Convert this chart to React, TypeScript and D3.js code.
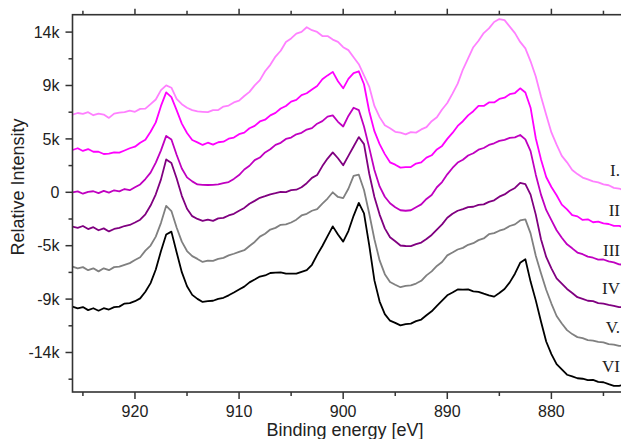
import React from "react";
import * as d3 from "d3";

const energies = [
  926, 925.5, 925, 924.5, 924, 923.5, 923, 922.5, 922, 921.5,
  921, 920.5, 920, 919.5, 919, 918.5, 918, 917.5, 917, 916.5,
  916, 915.5, 915, 914.5, 914, 913.5, 913, 912.5, 912, 911.5,
  911, 910.5, 910, 909.5, 909, 908.5, 908, 907.5, 907, 906.5,
  906, 905.5, 905, 904.5, 904, 903.5, 903, 902.5, 902, 901.5,
  901, 900.5, 900, 899.5, 899, 898.5, 898, 897.5, 897, 896.5,
  896, 895.5, 895, 894.5, 894, 893.5, 893, 892.5, 892, 891.5,
  891, 890.5, 890, 889.5, 889, 888.5, 888, 887.5, 887, 886.5,
  886, 885.5, 885, 884.5, 884, 883.5, 883, 882.5, 882, 881.5,
  881, 880.5, 880, 879.5, 879, 878.5, 878, 877.5, 877, 876.5,
  876, 875.5, 875, 874.5, 874, 873.5, 873, 872.5, 872,
];

const seriesI = [
  6620, 6750, 6680, 6820, 6560, 6700, 6620, 6330, 6700, 6780,
  6820, 6950, 6850, 7100, 7120, 7500, 7900, 8700, 9100, 8900,
  7950, 7500, 7200, 7000, 6880, 6850, 6820, 7000, 7000, 7300,
  7380, 7650, 7800, 8200, 8550, 9100, 9550, 10300, 10850, 11550,
  12050, 12800, 13100, 13500, 13650, 14050, 13800, 13650, 13300, 13300,
  13000, 12800, 12350, 12100, 11500, 10900, 9950, 9000, 7350, 6400,
  5700, 5450, 5150, 5080, 4930, 5120, 5080, 5350, 5550, 6050,
  6380, 7050, 7600, 8400, 9250, 10450, 11400, 12350, 12900, 13550,
  13950, 14500, 14750, 14650, 14100, 13550, 12800, 12250, 11150, 9850,
  8150, 6600, 5100, 4050, 3100, 2550, 1900, 1550, 1250, 1100,
  930, 850, 680, 600, 380, 320, 140, 160, 40,
];

const seriesII = [
  3600, 3750, 3520, 3680, 3450, 3450, 3260, 3300, 3400, 3380,
  3560, 3750, 3880, 4220, 4480, 5150, 5950, 7350, 8500, 8100,
  7000, 5850, 5050, 4450, 4250, 4030, 4220, 4060, 4260, 4310,
  4560, 4660, 4950, 5080, 5450, 5650, 6030, 6180, 6550, 6760,
  7130, 7350, 7720, 7860, 8270, 8430, 8750, 9050, 9620, 9950,
  10250, 9450, 8850, 9650, 10150, 10300, 9200, 6900, 5200, 4100,
  3250, 2550, 2350, 2100, 2150, 2150, 2450, 2550, 2950, 3150,
  3650, 3950, 4550, 5050, 5650, 6050, 6550, 6900, 7350, 7350,
  7650, 7650, 7950, 8050, 8350, 8450, 8850, 8500, 7200, 4600,
  2800, 1300, 450, -250, -1050, -1450, -1950, -2050, -2350, -2300,
  -2550, -2500, -2650, -2700, -2850, -2850, -3000, -2950, -3050,
];

const seriesIII = [
  0, 80, -120, 40, 90, -70, 120, -30, 170, 80,
  280, 180, 430, 670, 1130, 1670, 2530, 3570, 4800, 4500,
  3200, 2030, 1270, 930, 670, 630, 620, 640, 670, 790,
  870, 1140, 1470, 1940, 2260, 2740, 2960, 3390, 3660, 4040,
  4210, 4540, 4660, 4940, 5060, 5340, 5460, 5840, 6060, 6440,
  6550, 6000, 5600, 6500, 7200, 7000, 5600, 3800, 1900, 500,
  -380, -930, -1270, -1530, -1570, -1530, -1270, -1030, -570, -230,
  430, 870, 1530, 2070, 2530, 2770, 3130, 3320, 3630, 3770,
  4030, 4170, 4380, 4470, 4630, 4670, 4880, 4500, 3500, 1500,
  -200, -1500, -2370, -3230, -3870, -4430, -4770, -5130, -5270, -5480,
  -5570, -5730, -5720, -5880, -5970, -6130, -6170, -6280, -6270,
];

const seriesIV = [
  -2930, -3030, -2870, -3130, -2970, -3230, -3070, -3330, -3120, -3030,
  -2870, -2780, -2570, -2330, -1870, -1130, -170, 1100, 2800, 2500,
  1200, -300, -1400, -2030, -2270, -2430, -2320, -2430, -2220, -2180,
  -1970, -1830, -1570, -1330, -970, -730, -470, -330, -170, -80,
  30, 20, 180, 220, 430, 770, 1230, 1470, 2230, 2870,
  3400, 2900, 2300, 3100, 3900, 4700, 4100, 1600, -400, -1900,
  -3070, -3830, -4170, -4530, -4570, -4580, -4420, -4280, -3970, -3630,
  -3170, -2730, -2170, -1830, -1570, -1430, -1270, -1230, -1070, -1030,
  -820, -680, -370, -180, 130, 370, 800, 700, -200, -1900,
  -4000, -5500, -6470, -7330, -7770, -8230, -8570, -8930, -9070, -9230,
  -9270, -9430, -9470, -9580, -9670, -9780, -9770, -9880, -9870,
];

const seriesV = [
  -6330, -6480, -6370, -6630, -6470, -6730, -6470, -6630, -6370, -6330,
  -6170, -6030, -5770, -5530, -4970, -4530, -3770, -2600, -1150, -1600,
  -3000, -4200, -5000, -5430, -5670, -5930, -5820, -5830, -5670, -5580,
  -5370, -5230, -5070, -4930, -4570, -4230, -3770, -3530, -3170, -3030,
  -2770, -2730, -2570, -2330, -1970, -1830, -1570, -1430, -970, -530,
  0, -400, -500, 300, 1400, 1500, 200, -1800, -4000, -5800,
  -6970, -7630, -7870, -8080, -7970, -7930, -7770, -7530, -7070, -6730,
  -6270, -5930, -5370, -5130, -4870, -4730, -4470, -4330, -4070, -3930,
  -3570, -3480, -3270, -3130, -2870, -2730, -2400, -2300, -3500, -5400,
  -6900, -8300, -9470, -10530, -11170, -11730, -12070, -12330, -12420, -12580,
  -12620, -12730, -12770, -12930, -12970, -13080, -13070, -13180, -13170,
];

const seriesVI = [
  -9740, -9880, -9770, -10030, -9870, -10080, -9870, -9980, -9770, -9730,
  -9470, -9430, -9270, -9030, -8470, -7730, -6570, -5000, -3600, -3350,
  -5100, -6800, -8000, -8730, -9070, -9330, -9270, -9230, -9070, -8980,
  -8770, -8530, -8270, -8030, -7670, -7430, -7170, -7080, -6870, -6830,
  -6820, -6930, -6920, -6930, -6770, -6630, -6170, -5330, -4570, -3730,
  -2900, -3600, -4200, -3300, -2000, -900, -1800, -4500, -7500, -9300,
  -10370, -10930, -11120, -11330, -11220, -11180, -10970, -10830, -10470, -10130,
  -9670, -9230, -8770, -8530, -8270, -8280, -8270, -8430, -8470, -8630,
  -8770, -8880, -8570, -8230, -7670, -6930, -6000, -5700, -7600, -9200,
  -11000, -12700, -13770, -14630, -15070, -15530, -15670, -15830, -15870, -15980,
  -15970, -16130, -16170, -16330, -16470, -16480, -16370, -16480, -16470,
];

const seriesNames = ["I.", "II", "III", "IV", "V.", "VI"];
const seriesColors = ["#ff80ff", "#ff00ff", "#c000c0", "#800080", "#808080", "#000000"];
const labelValues = [1900, -1510, -4910, -8150, -11470, -14770];

const yTickValues = [-13636, -9091, -4545, 0, 4545, 9091, 13636];
const yTickLabels = ["-14k", "-9k", "-5k", "0", "5k", "9k", "14k"];
const yMinorValues = [-15909, -11364, -6818, -2273, 2273, 6818, 11364];
const xTickValues = [920, 910, 900, 890, 880];
const xMinorValues = [925, 915, 905, 895, 885, 875];

const W = 621;
const H = 439;
const left = 72.5;
const right = 655.5;
const top = 14.7;
const bottom = 392;

export default function App() {
  const x = d3.scaleLinear().domain([926, 870]).range([left, right]);
  const y = d3.scaleLinear().domain([-16999, 15117]).range([bottom, top]);
  const allSeries = [seriesI, seriesII, seriesIII, seriesIV, seriesV, seriesVI];
  const line = d3
    .line<number>()
    .x((_, i) => x(energies[i]))
    .y((d) => y(d));
  const axisColor = "#333";
  const font = "'Liberation Sans', Arial, sans-serif";

  return (
    <svg
      width={W}
      height={H}
      style={{ position: "fixed", left: 0, top: 0, background: "#fff" }}
    >
      <defs>
        <clipPath id="plotClip">
          <rect x={left} y={top} width={right - left} height={bottom - top} />
        </clipPath>
      </defs>
      <g clipPath="url(#plotClip)">
        {allSeries.map((s, k) => (
          <path
            key={k}
            d={line(s) || ""}
            fill="none"
            stroke={seriesColors[k]}
            strokeWidth={1.8}
            strokeLinejoin="round"
          />
        ))}
      </g>
      <rect
        x={left}
        y={top}
        width={right - left}
        height={bottom - top}
        fill="none"
        stroke={axisColor}
        strokeWidth={1.6}
      />
      {yTickValues.map((v, i) => (
        <g key={"yt" + i}>
          <line x1={left - 7} x2={left} y1={y(v)} y2={y(v)} stroke={axisColor} strokeWidth={1.5} />
          <text
            x={left - 13}
            y={y(v)}
            dy="0.36em"
            textAnchor="end"
            fontFamily={font}
            fontSize={16}
            fill="#222"
          >
            {yTickLabels[i]}
          </text>
        </g>
      ))}
      {yMinorValues.map((v, i) => (
        <line key={"ym" + i} x1={left - 4} x2={left} y1={y(v)} y2={y(v)} stroke={axisColor} strokeWidth={1.5} />
      ))}
      {xTickValues.map((v, i) => (
        <g key={"xt" + i}>
          <line x1={x(v)} x2={x(v)} y1={bottom} y2={bottom + 7} stroke={axisColor} strokeWidth={1.5} />
          <line x1={x(v)} x2={x(v)} y1={top} y2={top - 6} stroke={axisColor} strokeWidth={1.5} />
          <text
            x={x(v)}
            y={417}
            textAnchor="middle"
            fontFamily={font}
            fontSize={16}
            fill="#222"
          >
            {v}
          </text>
        </g>
      ))}
      {xMinorValues.map((v, i) => (
        <g key={"xm" + i}>
          <line x1={x(v)} x2={x(v)} y1={bottom} y2={bottom + 4} stroke={axisColor} strokeWidth={1.5} />
          <line x1={x(v)} x2={x(v)} y1={top} y2={top - 4} stroke={axisColor} strokeWidth={1.5} />
        </g>
      ))}
      <text
        x={345}
        y={436}
        textAnchor="middle"
        fontFamily={font}
        fontSize={18}
        fill="#222"
      >
        Binding energy [eV]
      </text>
      <text
        transform={`translate(24, 187) rotate(-90)`}
        textAnchor="middle"
        fontFamily={font}
        fontSize={18}
        fill="#222"
      >
        Relative Intensity
      </text>
      {seriesNames.map((n, i) => (
        <text
          key={"lab" + i}
          x={620}
          y={y(labelValues[i])}
          dy="0.35em"
          textAnchor="end"
          fontFamily="'Liberation Serif', 'Times New Roman', serif"
          fontSize={17}
          fill="#222"
        >
          {n}
        </text>
      ))}
    </svg>
  );
}
